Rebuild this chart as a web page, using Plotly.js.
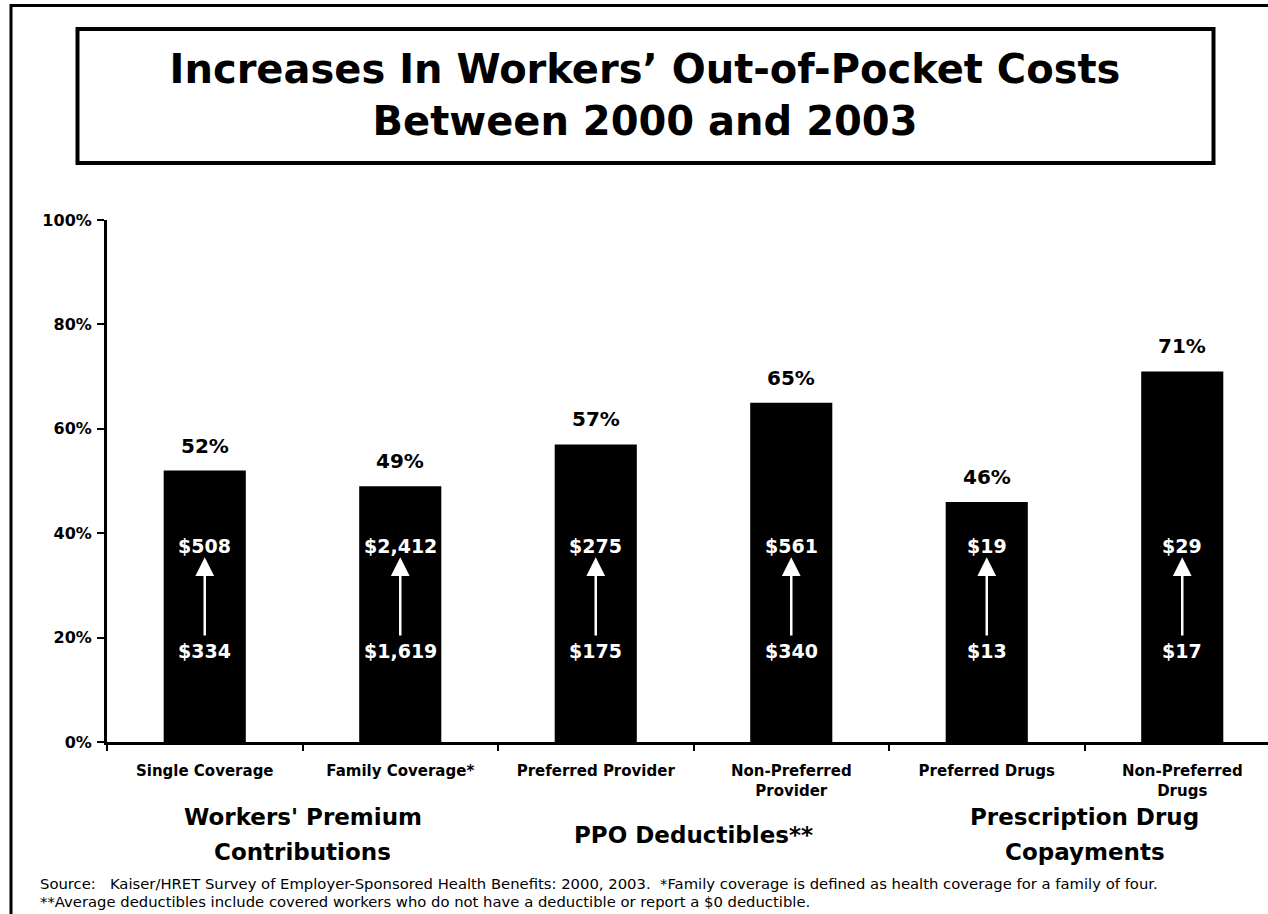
<!DOCTYPE html>
<html><head><meta charset="utf-8">
<script src="https://cdn.plot.ly/plotly-3.0.1.min.js"></script>
<style>html,body{margin:0;padding:0;background:#fff}#chart{width:1268px;height:914px}</style>
</head><body><div id="chart"></div>
<script>
// ---- data ----
const categories = ["Single Coverage", "Family Coverage*", "Preferred Provider", "Non-Preferred Provider", "Preferred Drugs", "Non-Preferred Drugs"];
const tickLabels = ["Single Coverage", "Family Coverage*", "Preferred Provider", "Non-Preferred<br>Provider", "Preferred Drugs", "Non-Preferred<br>Drugs"];
const increasePct = [52, 49, 57, 65, 46, 71];
const cost2000 = ["$334", "$1,619", "$175", "$340", "$13", "$17"];
const cost2003 = ["$508", "$2,412", "$275", "$561", "$19", "$29"];
const groupNames = [["Workers' Premium", "Contributions"], ["PPO Deductibles**"], ["Prescription Drug", "Copayments"]];
const groupCenters = [0.5, 2.5, 4.5];
const yTickVals = [0, 20, 40, 60, 80, 100];
const yTickText = ["0%", "20%", "40%", "60%", "80%", "100%"];
const titleText = "Increases In Workers\u2019 Out-of-Pocket Costs<br>Between 2000 and 2003";
const sourceLines = [
  "Source:\u00A0\u00A0\u00A0Kaiser/HRET Survey of Employer-Sponsored Health Benefits: 2000, 2003.\u00A0\u00A0*Family coverage is defined as health coverage for a family of four.",
  "**Average deductibles include covered workers who do not have a deductible or report a $0 deductible."
];

// ---- geometry / style ----
const W = 1268, H = 914, L = 107, R = 0, T = 220, B = 172;
const plotW = W - L - R, plotH = H - T - B;
const px2x = px => (px - L) / plotW;
const px2y = py => (H - B - py) / plotH;
const FONT = "DejaVu Sans";
const toLabelY = 37.5, fromLabelY = 17.4, arrowTipY = 35.4, arrowTailY = 20.1;

const annotations = [];
categories.forEach((c, i) => {
  annotations.push({x: c, y: increasePct[i], xref: "x", yref: "y", text: increasePct[i] + "%",
    showarrow: false, yanchor: "bottom", yshift: 11, font: {family: FONT, size: 20, color: "#000", weight: "bold"}});
  annotations.push({x: c, y: toLabelY, xref: "x", yref: "y", text: cost2003[i], showarrow: false,
    font: {family: FONT, size: 19, color: "#fff", weight: "bold"}});
  annotations.push({x: c, y: fromLabelY, xref: "x", yref: "y", text: cost2000[i], showarrow: false,
    font: {family: FONT, size: 19, color: "#fff", weight: "bold"}});
  annotations.push({x: c, y: arrowTipY, ax: c, ay: arrowTailY, xref: "x", yref: "y", axref: "x", ayref: "y",
    text: "", showarrow: true, arrowhead: 2, arrowsize: 1.5, arrowwidth: 2.5, arrowcolor: "#fff", standoff: 0, startstandoff: 0});
});
groupNames.forEach((lines, g) => {
  const mid = 834.5, gap = 35;
  lines.forEach((t, k) => {
    const py = mid + (k - (lines.length - 1) / 2) * gap;
    annotations.push({x: groupCenters[g], xref: "x", y: px2y(py), yref: "paper", text: t, showarrow: false,
      yanchor: "middle", font: {family: FONT, size: 23, color: "#000", weight: "bold"}});
  });
});
sourceLines.forEach((t, k) => {
  annotations.push({x: px2x(38), xref: "paper", xanchor: "left", y: px2y(883 + 18 * k), yref: "paper", yanchor: "middle",
    text: t, showarrow: false, font: {family: FONT, size: 14.8, color: "#000"}});
});

const shapes = [
  {type: "rect", xref: "paper", yref: "paper", x0: px2x(11), x1: px2x(1300), y0: px2y(960), y1: px2y(5.5),
   line: {color: "#000", width: 3}, fillcolor: "rgba(0,0,0,0)"},
  {type: "rect", xref: "paper", yref: "paper", x0: px2x(77.5), x1: px2x(1213.5), y0: px2y(163), y1: px2y(29),
   line: {color: "#000", width: 4}, fillcolor: "rgba(0,0,0,0)"}
];

const trace = {type: "bar", x: categories, y: increasePct, marker: {color: "#000", line: {width: 0}},
  hoverinfo: "none"};

const layout = {
  width: W, height: H, margin: {l: L, r: R, t: T, b: B, pad: 0},
  paper_bgcolor: "#fff", plot_bgcolor: "#fff", showlegend: false, bargap: 0.58,
  title: {text: titleText, x: 645 / W, xanchor: "center", xref: "container", y: 1 - 83 / H, yref: "container", yanchor: "middle",
    font: {family: FONT, size: 40, color: "#000", weight: "bold"}},
  xaxis: {type: "category", range: [-0.5, -0.5 + plotW / 195.5], tickvals: categories, ticktext: tickLabels,
    tickson: "boundaries", ticks: "outside", ticklen: 6, tickwidth: 2, tickcolor: "#000",
    showline: true, linewidth: 3, linecolor: "#000", showgrid: false, zeroline: false,
    tickfont: {family: FONT, size: 15, color: "#000", weight: "bold"}, ticklabelstandoff: 13, fixedrange: true},
  yaxis: {range: [0, 100], tickvals: yTickVals, ticktext: yTickText, ticks: "outside", ticklen: 7, tickwidth: 2, tickcolor: "#000",
    showline: true, linewidth: 3, linecolor: "#000", showgrid: false, zeroline: false,
    tickfont: {family: FONT, size: 16, color: "#000", weight: "bold"}, ticklabelstandoff: 2, fixedrange: true},
  annotations: annotations, shapes: shapes
};

Plotly.newPlot("chart", [trace], layout, {displayModeBar: false, staticPlot: true});
</script></body></html>
